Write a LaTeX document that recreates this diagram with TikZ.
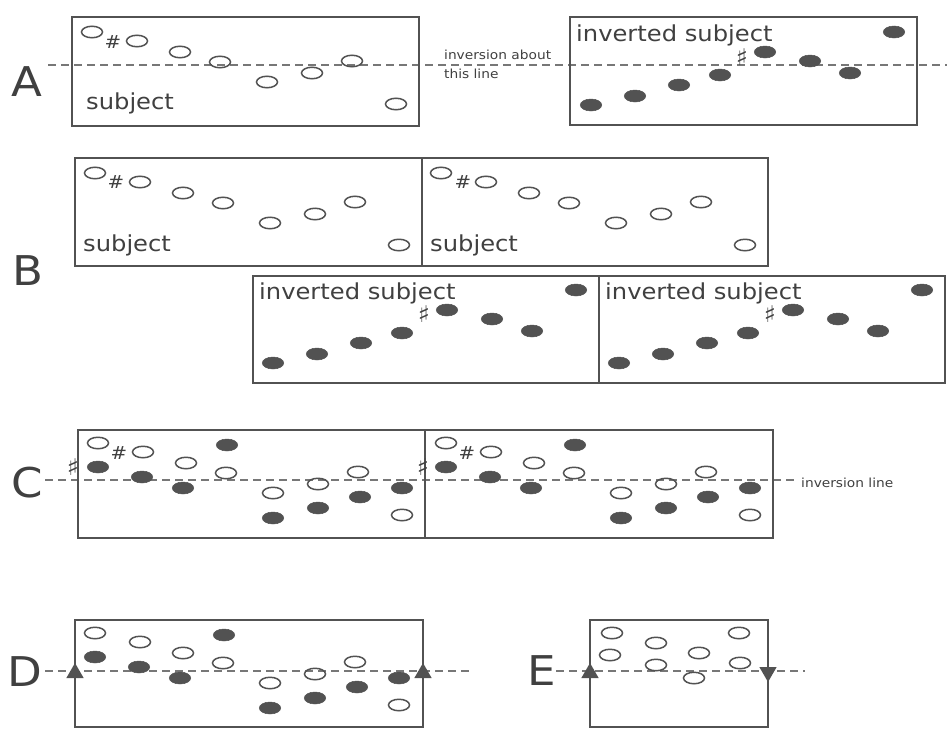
\documentclass[tikz,border=0pt]{standalone}
\usepackage{fontspec}
\setmainfont{DejaVu Sans}[FakeStretch=1.1]
\usetikzlibrary{shapes.geometric}
\definecolor{ink}{HTML}{525252}
\definecolor{txt}{HTML}{404040}
\definecolor{dsh}{HTML}{777777}
\tikzset{
 opn/.style={ellipse, draw=ink, line width=1.5pt, minimum width=21pt, minimum height=11.5pt, inner sep=0pt},
 ful/.style={ellipse, fill=ink, draw=ink, line width=0.5pt, minimum width=21.5pt, minimum height=12pt, inner sep=0pt},
 frame/.style={draw=ink, line width=1.5pt},
 dline/.style={draw=dsh, line width=1.3pt, dash pattern=on 8pt off 5pt},
 big/.style={text=txt, font=\fontsize{41}{41}\selectfont, inner sep=0pt},
 lbl/.style={text=txt, font=\fontsize{22}{22}\selectfont, inner sep=0pt, anchor=base west},
 small/.style={text=txt, font=\fontsize{12.5}{15}\selectfont, inner sep=0pt, anchor=base west},
 sharp/.style={text=txt, font=\fontsize{18}{18}\selectfont, inner sep=0pt},
 vsharp/.style={text=txt, font=\fontsize{23}{23}\selectfont, inner sep=0pt},
 tri/.style={regular polygon, regular polygon sides=3, fill=ink, minimum size=20pt, inner sep=0pt},
}
\newcommand\subjpat[3]{%
 \foreach \dx/\dy [count=\k] in {20/15,65/24,108/35,148/45,195/65,240/56,280/44,324/87}
   {\node[opn] (#1-o\k) at (#2+\dx,#3+\dy) {};}
}
\newcommand\invpat[3]{%
 \foreach \dx/\dy [count=\k] in {21/88,65/79,109/68,150/58,195/35,240/44,280/56,324/15}
   {\node[ful] (#1-f\k) at (#2+\dx,#3+\dy) {};}
}
\newcommand\canonpat[3]{%
 \foreach \dx/\dy [count=\k] in {20/37,64/47,105/58,149/15,195/88,240/78,282/67,324/58}
   {\node[ful] (#1-f\k) at (#2+\dx,#3+\dy) {};}
}
\begin{document}
\begin{tikzpicture}[x=1pt,y=-1pt]
\useasboundingbox[fill=white] (0,0) rectangle (947,731);

% ---------- dashed inversion lines ----------
\coordinate (dA0) at (48,65);  \coordinate (dA1) at (947,65);
\coordinate (dC0) at (45,480); \coordinate (dC1) at (798,480);
\coordinate (dD0) at (45,671); \coordinate (dD1) at (470,671);
\coordinate (dE0) at (556,671); \coordinate (dE1) at (805,671);
\draw[dline] (dA0) -- (dA1);
\draw[dline] (dC0) -- (dC1);
\draw[dline] (dD0) -- (dD1);
\draw[dline] (dE0) -- (dE1);

% ---------- frames ----------
\draw[frame] (72,17) rectangle (419,126);
\draw[frame] (570,17) rectangle (917,125);
\draw[frame] (75,158) rectangle (768,266);
\draw[frame] (422,158) -- (422,266);
\draw[frame] (253,276) rectangle (945,383);
\draw[frame] (599,276) -- (599,383);
\draw[frame] (78,430) rectangle (773,538);
\draw[frame] (425,430) -- (425,538);
\draw[frame] (75,620) rectangle (423,727);
\draw[frame] (590,620) rectangle (768,727);

% ---------- row letters ----------
\node[big] (LA) at (27,82) {A};
\node[big] (LB) at (28,271) {B};
\node[big] (LC) at (27,483) {C};
\node[big] (LD) at (25,672) {D};
\node[big] (LE) at (542,671) {E};

% ---------- A ----------
\subjpat{A1}{72}{17}
\node[sharp] (A1-sh) at (113,42) {\#};
\node[lbl] (A1-t) at (86,109) {subject};
\invpat{A2}{570}{17}
\node[vsharp] (A2-sh) at (742,57) {♯};
\node[lbl] (A2-t) at (576,41) {inverted subject};
\node[small] (A-l1) at (444,59) {inversion about};
\node[small] (A-l2) at (444,78) {this line};

% ---------- B ----------
\subjpat{B1}{75}{158}
\node[sharp] (B1-sh) at (116,182) {\#};
\node[lbl] (B1-t) at (83,251) {subject};
\subjpat{B2}{421}{158}
\node[sharp] (B2-sh) at (463,182) {\#};
\node[lbl] (B2-t) at (430,251) {subject};
\invpat{B3}{252}{275}
\node[vsharp] (B3-sh) at (424,314) {♯};
\node[lbl] (B3-t) at (259,299) {inverted subject};
\invpat{B4}{598}{275}
\node[vsharp] (B4-sh) at (770,314) {♯};
\node[lbl] (B4-t) at (605,299) {inverted subject};

% ---------- C ----------
\subjpat{C1}{78}{428}
\canonpat{C1}{78}{430}
\node[sharp] (C1-sh) at (119,453) {\#};
\node[vsharp] (C1-sh2) at (73,467) {♯};
\subjpat{C2}{426}{428}
\canonpat{C2}{426}{430}
\node[sharp] (C2-sh) at (467,453) {\#};
\node[vsharp] (C2-sh2) at (423,467) {♯};
\node[small] (C-l) at (801,487) {inversion line};

% ---------- D ----------
\subjpat{D}{75}{618}
\canonpat{D}{75}{620}
\node[tri] (D-t1) at (75,673) {};
\node[tri] (D-t2) at (423,673) {};

% ---------- E ----------
\foreach \px/\py [count=\k] in {612/633,656/643,699/653,739/633,610/655,656/665,694/678,740/663}
  {\node[opn] (E-o\k) at (\px,\py) {};}
\node[tri] (E-t1) at (590,673) {};
\node[tri, shape border rotate=180] (E-t2) at (768,672) {};
\end{tikzpicture}
\end{document}
